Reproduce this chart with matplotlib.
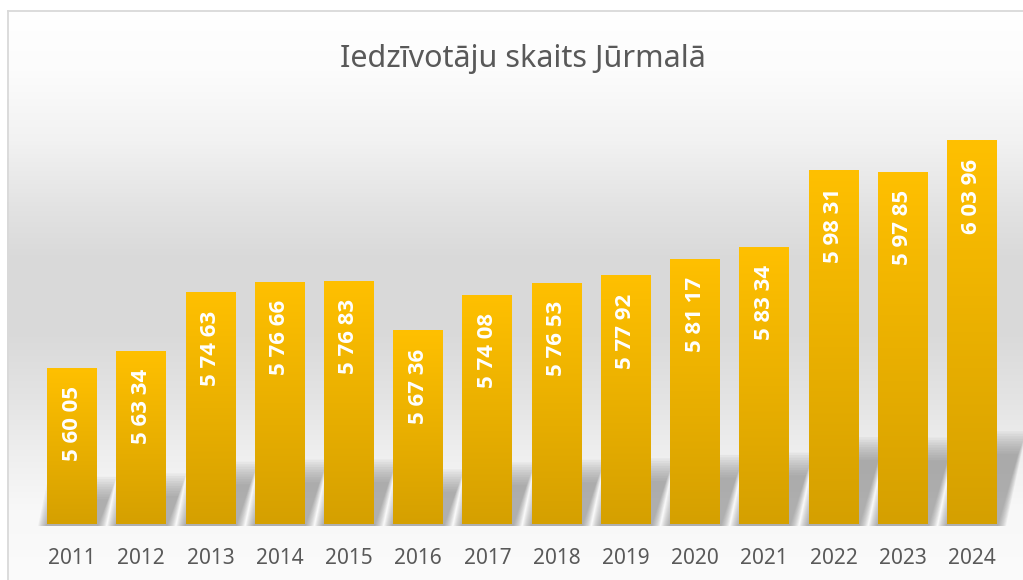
import numpy as np
import matplotlib
matplotlib.use("Agg")
import matplotlib.pyplot as plt
from matplotlib.colors import LinearSegmentedColormap
from matplotlib.patches import Polygon

plt.rcParams["font.family"] = ["Noto Sans", "DejaVu Sans"]

# dati
years = ["2011", "2012", "2013", "2014", "2015", "2016", "2017",
         "2018", "2019", "2020", "2021", "2022", "2023", "2024"]
residents = [56005, 56334, 57463, 57666, 57683, 56736, 57408,
             57653, 57792, 58117, 58334, 59831, 59785, 60396]
title = "Iedzīvotāju skaits Jūrmalā"

Y_MIN, Y_MAX = 53000, 61000
W, H = 1023, 580


def fmt(v):
    s = f"{v:05d}"
    return f"{s[0]} {s[1:3]} {s[3:]}"


fig = plt.figure(figsize=(W / 100, H / 100), dpi=100)

# fons ar gradientu un rāmi
bg = fig.add_axes([0, 0, 1, 1], zorder=-1)
ys = np.arange(H)
stops_y = [11, 70, 140, 210, 260, 330, 400, 450, 510, 580]
stops_v = [255, 252, 242, 226, 217, 217, 228, 238, 248, 251]
col = np.interp(ys, stops_y, stops_v) / 255
img = np.repeat(col[:, None], W, axis=1)
img[:11, :] = 1.0
img[:, :7] = 1.0
bg.imshow(np.dstack([img, img, img]), extent=(0, W, H, 0), aspect="auto")
bg.plot([7.5, 7.5], [11, H], color="#d9d9d9", lw=1.3)
bg.plot([7.5, W], [11, 11], color="#d9d9d9", lw=1.3)
bg.set_xlim(0, W)
bg.set_ylim(H, 0)
bg.axis("off")

ax = fig.add_axes([37.4 / W, 1 - 524 / H, 969.2 / W, 415 / H])
ax.set_facecolor("none")
x = np.arange(len(years))
bw = 0.72

# ēnas
px_y = (Y_MAX - Y_MIN) / 415.0
px_x = 1 / 69.23
for xi, v in zip(x, residents):
    bar_px = (v - Y_MIN) / px_y
    sh = 0.2 * bar_px + 16
    for k in range(10):
        grow = (10 - k) * 0.9
        h = (sh - k * 2.5) * px_y
        sk = 0.22 * sh * px_x
        g = grow * px_x
        pts = [(xi - bw / 2 - g, Y_MIN - 2 * px_y), (xi + bw / 2 + g, Y_MIN - 2 * px_y),
               (xi + bw / 2 + sk + g, Y_MIN + h), (xi - bw / 2 + sk - g, Y_MIN + h)]
        ax.add_patch(Polygon(pts, closed=True, facecolor="#7a7a7a",
                             edgecolor="none", alpha=0.08, zorder=1,
                             clip_on=False))

cmap = LinearSegmentedColormap.from_list("gold", ["#D5A000", "#FFC000"])
grad = np.linspace(0, 1, 256).reshape(-1, 1)
bars = ax.bar(x, residents, width=bw, color="none", edgecolor="none", zorder=3)
for b, xi, v in zip(bars, x, residents):
    im = ax.imshow(grad, cmap=cmap, origin="lower", aspect="auto",
                   extent=(xi - bw / 2, xi + bw / 2, Y_MIN, v), zorder=3)
    im.set_clip_path(b)
    ax.annotate(fmt(v), (xi, v), xytext=(0, -13), textcoords="offset points",
                rotation=90, ha="center", va="top", color="white",
                fontsize=16, fontweight="bold", family=["Open Sans", "DejaVu Sans"],
                zorder=4)

ax.set_xlim(-0.5, len(years) - 0.5)
ax.set_ylim(Y_MIN, Y_MAX)
ax.set_xticks(x)
ax.set_xticklabels(years, fontsize=15, color="#595959")
ax.tick_params(axis="x", length=0, pad=17)
ax.set_yticks([])
for s in ax.spines.values():
    s.set_visible(False)

fig.text(523 / W, 1 - 59 / H, title, ha="center", va="center",
         fontsize=22, color="#595959")

fig.savefig("out.png", dpi=100)
